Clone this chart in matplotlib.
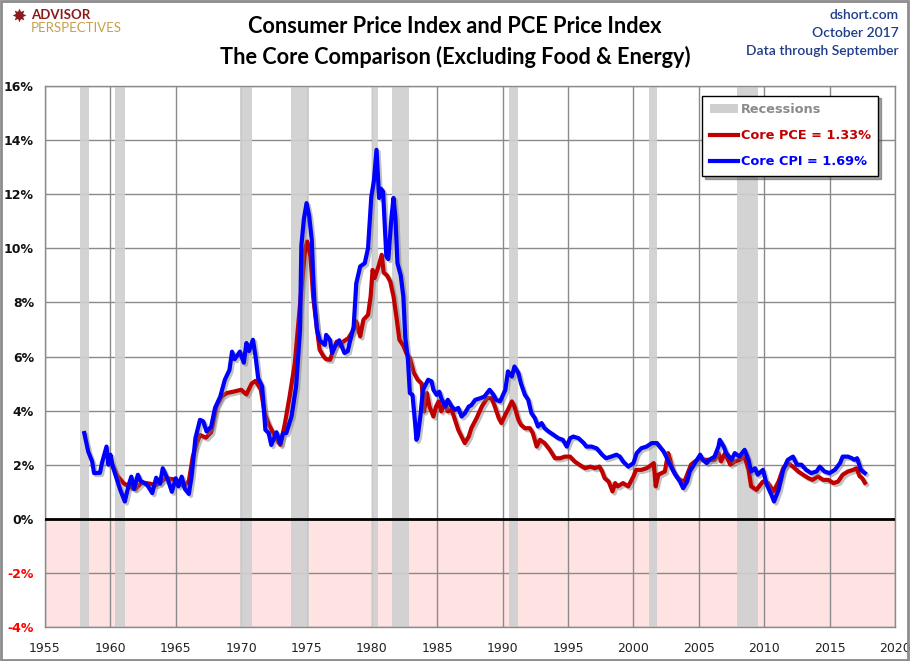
import matplotlib
matplotlib.use("Agg")
import matplotlib.pyplot as plt
import matplotlib.patheffects as pe
from matplotlib.patches import Patch, Rectangle
from matplotlib.lines import Line2D

# ---------------- data ----------------
cpi_years = [1958.0, 1958.3, 1958.6, 1958.75, 1959.2, 1959.35, 1959.7, 1959.85, 1960.0, 1960.2,
             1960.5, 1960.75, 1961.1, 1961.4, 1961.6, 1961.8, 1962.1, 1962.3, 1962.8, 1963.2,
             1963.5, 1963.8, 1964.0, 1964.4, 1964.7, 1965.0, 1965.2, 1965.45, 1965.7, 1966.0,
             1966.2, 1966.5, 1966.85, 1967.1, 1967.35, 1967.7, 1968.0, 1968.4, 1968.75, 1969.1,
             1969.3, 1969.5, 1969.9, 1970.2, 1970.4, 1970.6, 1970.9, 1971.1, 1971.3, 1971.6,
             1971.85, 1972.1, 1972.3, 1972.7, 1973.0, 1973.2, 1973.45, 1973.85, 1974.2, 1974.5,
             1974.6, 1974.8, 1975.0, 1975.2, 1975.4, 1975.5, 1975.6, 1975.8, 1976.0, 1976.4,
             1976.5, 1976.8, 1976.95, 1977.2, 1977.5, 1977.9, 1978.15, 1978.35, 1978.6, 1978.8,
             1979.1, 1979.45, 1979.7, 1979.95, 1980.15, 1980.35, 1980.55, 1980.7, 1980.85, 1981.1,
             1981.25, 1981.5, 1981.65, 1981.8, 1981.95, 1982.2, 1982.4, 1982.55, 1982.75, 1982.9,
             1983.1, 1983.3, 1983.4, 1983.5, 1983.7, 1983.9, 1984.3, 1984.56, 1984.7, 1984.95,
             1985.15, 1985.3, 1985.6, 1985.8, 1986.1, 1986.35, 1986.6, 1986.85, 1987.1, 1987.4,
             1987.6, 1987.9, 1988.3, 1988.6, 1989.0, 1989.3, 1989.5, 1989.8, 1990.2, 1990.4,
             1990.7, 1990.9, 1991.2, 1991.4, 1991.7, 1991.95, 1992.2, 1992.46, 1992.7, 1992.97,
             1993.2, 1993.5, 1993.9, 1994.25, 1994.6, 1994.9, 1995.15, 1995.4, 1995.8, 1996.2,
             1996.4, 1996.8, 1997.2, 1997.6, 1997.9, 1998.3, 1998.7, 1998.96, 1999.2, 1999.6,
             2000.0, 2000.25, 2000.6, 2001.0, 2001.4, 2001.8, 2002.0, 2002.3, 2002.5, 2002.8,
             2003.2, 2003.55, 2003.8, 2004.1, 2004.3, 2004.7, 2005.1, 2005.3, 2005.6, 2005.8,
             2006.2, 2006.5, 2006.6, 2006.9, 2007.1, 2007.5, 2007.75, 2008.1, 2008.5, 2008.8,
             2009.0, 2009.3, 2009.5, 2009.9, 2010.2, 2010.6, 2010.75, 2011.1, 2011.45, 2011.8,
             2012.2, 2012.5, 2012.85, 2013.2, 2013.6, 2014.0, 2014.25, 2014.6, 2015.0, 2015.4,
             2015.8, 2016.0, 2016.4, 2016.7, 2016.9, 2017.1, 2017.4, 2017.7]
cpi_vals = [3.17, 2.49, 2.12, 1.69, 1.70, 2.06, 2.67, 2.0, 2.37, 1.9,
            1.44, 1.07, 0.64, 1.26, 1.56, 1.1, 1.63, 1.4, 1.26, 0.95,
            1.52, 1.3, 1.87, 1.44, 1.0, 1.5, 1.2, 1.56, 1.1, 0.92,
            1.56, 2.98, 3.66, 3.6, 3.23, 3.4, 4.1, 4.52, 5.14, 5.5,
            6.18, 5.9, 6.18, 5.77, 6.5, 6.2, 6.62, 6.0, 5.2, 4.9,
            3.29, 3.17, 2.73, 3.2, 2.78, 3.17, 3.17, 3.78, 4.89, 6.99,
            10.1, 11.1, 11.67, 11.2, 10.3, 8.96, 7.98, 6.99, 6.6, 6.43,
            6.8, 6.6, 6.13, 6.4, 6.6, 6.13, 6.2, 6.62, 7.1, 8.7,
            9.33, 9.45, 10.0, 11.9, 12.5, 13.64, 11.86, 12.2, 12.1, 9.7,
            9.6, 11.18, 11.86, 11.1, 9.45, 9.0, 8.22, 6.7, 5.9, 4.65,
            4.58, 3.54, 2.92, 3.04, 3.78, 4.77, 5.14, 5.08, 4.77, 4.58,
            4.7, 4.46, 4.15, 4.4, 4.15, 4.03, 4.1, 3.78, 3.9, 4.15,
            4.2, 4.4, 4.46, 4.52, 4.77, 4.58, 4.4, 4.34, 4.77, 5.45,
            5.26, 5.63, 5.39, 5.0, 4.58, 4.4, 3.9, 3.72, 3.41, 3.54,
            3.35, 3.23, 3.1, 2.98, 2.92, 2.67, 2.98, 3.04, 2.98, 2.8,
            2.67, 2.67, 2.6, 2.37, 2.24, 2.3, 2.37, 2.3, 2.12, 1.93,
            2.06, 2.43, 2.61, 2.67, 2.8, 2.8, 2.67, 2.49, 2.3, 2.0,
            1.63, 1.38, 1.13, 1.38, 1.75, 2.06, 2.37, 2.18, 2.06, 2.18,
            2.3, 2.67, 2.92, 2.67, 2.43, 2.18, 2.43, 2.3, 2.55, 2.18,
            1.75, 1.87, 1.63, 1.81, 1.26, 0.83, 0.64, 1.07, 1.81, 2.18,
            2.3, 2.0, 2.0, 1.81, 1.69, 1.75, 1.93, 1.75, 1.69, 1.81,
            2.06, 2.3, 2.3, 2.24, 2.18, 2.24, 1.81, 1.69]

pce_years = [1960.0, 1960.2, 1960.5, 1961.0, 1961.4, 1961.9, 1962.4, 1963.0, 1963.5, 1964.25,
             1965.0, 1965.6, 1966.0, 1966.3, 1966.6, 1966.85, 1967.3, 1967.7, 1968.1, 1968.5,
             1968.9, 1969.4, 1970.0, 1970.4, 1970.8, 1971.1, 1971.5, 1971.8, 1972.1, 1972.45,
             1972.8, 1973.0, 1973.35, 1973.7, 1974.1, 1974.6, 1974.9, 1975.05, 1975.3, 1975.5,
             1975.8, 1976.0, 1976.3, 1976.5, 1976.8, 1977.0, 1977.3, 1977.55, 1977.8, 1978.2,
             1978.6, 1978.8, 1979.1, 1979.35, 1979.7, 1979.9, 1980.05, 1980.2, 1980.5, 1980.75,
             1980.9, 1981.15, 1981.4, 1981.65, 1981.9, 1982.1, 1982.4, 1982.65, 1982.9, 1983.2,
             1983.5, 1983.8, 1983.98, 1984.2, 1984.4, 1984.7, 1984.9, 1985.1, 1985.3, 1985.6,
             1985.8, 1986.1, 1986.35, 1986.6, 1986.85, 1987.1, 1987.4, 1987.6, 1988.0, 1988.4,
             1988.8, 1989.15, 1989.4, 1989.7, 1989.9, 1990.2, 1990.4, 1990.7, 1990.9, 1991.2,
             1991.4, 1991.7, 1992.08, 1992.3, 1992.6, 1992.85, 1993.2, 1993.6, 1994.0, 1994.4,
             1994.75, 1995.15, 1995.5, 1995.9, 1996.3, 1996.7, 1997.05, 1997.4, 1997.6, 1997.8,
             1998.1, 1998.4, 1998.6, 1998.8, 1999.2, 1999.6, 2000.0, 2000.2, 2000.6, 2001.0,
             2001.4, 2001.55, 2001.7, 2001.9, 2002.15, 2002.4, 2002.65, 2002.8, 2003.0, 2003.3,
             2003.55, 2003.9, 2004.2, 2004.4, 2004.7, 2005.1, 2005.5, 2005.8, 2006.2, 2006.5,
             2006.7, 2007.0, 2007.4, 2007.75, 2008.1, 2008.5, 2008.8, 2009.0, 2009.4, 2009.7,
             2009.9, 2010.3, 2010.7, 2011.1, 2011.45, 2011.8, 2012.2, 2012.6, 2012.97, 2013.4,
             2013.7, 2014.1, 2014.5, 2014.9, 2015.3, 2015.65, 2016.0, 2016.4, 2016.8, 2017.05,
             2017.3, 2017.5, 2017.7]
pce_vals = [2.05, 1.95, 1.6, 1.32, 1.2, 1.1, 1.35, 1.3, 1.25, 1.5,
            1.45, 1.2, 1.4, 2.3, 2.8, 3.1, 3.0, 3.2, 4.15, 4.52,
            4.65, 4.7, 4.77, 4.6, 5.0, 5.1, 4.77, 3.9, 3.5, 3.17,
            2.86, 2.73, 3.54, 4.52, 5.75, 8.47, 10.0, 10.25, 9.7, 8.22,
            6.99, 6.25, 6.0, 5.9, 5.88, 6.18, 6.55, 6.4, 6.55, 6.68,
            6.99, 7.3, 6.74, 7.36, 7.54, 8.22, 9.2, 8.9, 9.33, 9.76,
            9.1, 9.0, 8.77, 8.22, 7.36, 6.62, 6.4, 6.1, 5.94, 5.4,
            5.14, 5.0, 3.97, 4.65, 4.15, 3.78, 4.15, 4.34, 3.97, 4.3,
            3.97, 4.03, 3.66, 3.29, 3.04, 2.8, 3.04, 3.35, 3.72, 4.15,
            4.46, 4.46, 4.15, 3.72, 3.54, 3.85, 4.03, 4.34, 4.15, 3.66,
            3.47, 3.35, 3.35, 3.17, 2.67, 2.92, 2.8, 2.55, 2.24, 2.24,
            2.3, 2.3, 2.12, 1.99, 1.87, 1.93, 1.87, 1.93, 1.75, 1.5,
            1.38, 1.01, 1.32, 1.2, 1.32, 1.2, 1.57, 1.81, 1.81, 1.87,
            2.0, 2.06, 1.2, 1.63, 1.69, 1.75, 2.43, 2.18, 1.81, 1.57,
            1.44, 1.38, 1.75, 2.0, 2.12, 2.24, 2.18, 2.18, 2.18, 2.43,
            2.12, 2.43, 2.0, 2.12, 2.18, 2.3, 1.81, 1.2, 1.07, 1.26,
            1.38, 1.32, 1.01, 1.38, 1.87, 2.06, 1.93, 1.75, 1.63, 1.5,
            1.44, 1.57, 1.44, 1.44, 1.32, 1.38, 1.63, 1.75, 1.81, 1.87,
            1.57, 1.5, 1.33]

recession_starts = [1957.67, 1960.33, 1969.92, 1973.83, 1980.0, 1981.5, 1990.5, 2001.17, 2007.92]
recession_ends = [1958.33, 1961.08, 1970.83, 1975.17, 1980.5, 1982.83, 1991.17, 2001.83, 2009.5]

x_ticks = list(range(1955, 2021, 5))
y_ticks = list(range(-4, 17, 2))

pce_label = "Core PCE = 1.33%"
cpi_label = "Core CPI = 1.69%"

# ---------------- figure ----------------
fig = plt.figure(figsize=(9.1, 6.61), dpi=100)
fig.patches.append(Rectangle((0.001, 0.001), 0.997, 0.997, transform=fig.transFigure,
                             fill=False, edgecolor="#8c8c8c", linewidth=2))
ax = fig.add_axes([0.0495, 0.0514, 0.934, 0.8185])

ax.set_xlim(1955, 2020)
ax.set_ylim(-4, 16)

# negative region
ax.axhspan(-4, 0, color="#FFE3E3", zorder=0, linewidth=0)
# recessions
for s, e in zip(recession_starts, recession_ends):
    ax.axvspan(s, e, color="#CFCFCF", alpha=0.9, zorder=1, linewidth=0)

ax.set_xticks(x_ticks)
ax.set_yticks(y_ticks)
ax.grid(True, color="#8a8a8a", linewidth=1.0, zorder=0.5)
ax.set_axisbelow(True)

ax.axhline(0, color="black", linewidth=2, zorder=3)

shadow = [pe.SimpleLineShadow(offset=(1.5, -1.5), shadow_color="#777777", alpha=0.45),
          pe.Normal()]
ax.plot(pce_years, pce_vals, color="#C00000", linewidth=3.0, zorder=4, path_effects=shadow,
        solid_joinstyle="round")
ax.plot(cpi_years, cpi_vals, color="#0000FF", linewidth=3.0, zorder=5, path_effects=shadow,
        solid_joinstyle="round")

for sp in ax.spines.values():
    sp.set_color("#8a8a8a")
    sp.set_linewidth(1.0)

ax.tick_params(length=0)
ax.set_xticklabels([str(t) for t in x_ticks], fontsize=9, color="#222222")
ax.set_yticklabels([f"{t}%" for t in y_ticks], fontsize=9, fontweight="bold")
for lbl, t in zip(ax.get_yticklabels(), y_ticks):
    lbl.set_color("red" if t < 0 else "#111111")
ax.tick_params(axis="y", pad=8)
ax.tick_params(axis="x", pad=11)

# legend
handles = [Patch(facecolor="#CFCFCF", edgecolor="none"),
           Line2D([0], [0], color="#C00000", linewidth=3),
           Line2D([0], [0], color="#0000FF", linewidth=3)]
labels = ["Recessions", pce_label, cpi_label]
leg = ax.legend(handles, labels, loc="upper right", bbox_to_anchor=(0.988, 0.994),
                frameon=True, fancybox=False, shadow=True, edgecolor="black",
                framealpha=1, prop={"weight": "bold", "size": 9.3},
                labelcolor=["#8a8a8a", "#C00000", "#0000FF"],
                handlelength=2.2, handletextpad=0.2, borderpad=0.6, labelspacing=1.0)
leg.get_frame().set_linewidth(1.0)
leg.set_zorder(10)

# titles
fig.text(0.5, 0.960, "Consumer Price Index and PCE Price Index", ha="center", va="center",
         fontsize=15.7, fontweight="bold", family="Lato", color="black")
fig.text(0.5, 0.914, "The Core Comparison (Excluding Food & Energy)", ha="center", va="center",
         fontsize=15.7, fontweight="bold", family="Lato", color="black")

for y, t in zip([0.977, 0.950, 0.923], ["dshort.com", "October 2017", "Data through September"]):
    fig.text(0.988, y, t, ha="right", va="center", fontsize=10, family="Lato",
             color="#1F3C88", fontweight="semibold")

# logo
fig.text(0.012, 0.975, "\u2738", ha="left", va="center", fontsize=13, color="#8B1A1A")
fig.text(0.034, 0.977, "ADVISOR", ha="left", va="center", fontsize=9.5, fontweight="bold",
         family="Lato", color="#8B1A1A")
fig.text(0.034, 0.958, "PERSPECTIVES", ha="left", va="center", fontsize=9.5,
         family="Lato", color="#C8A04A")

fig.savefig("out.png", dpi=100)
